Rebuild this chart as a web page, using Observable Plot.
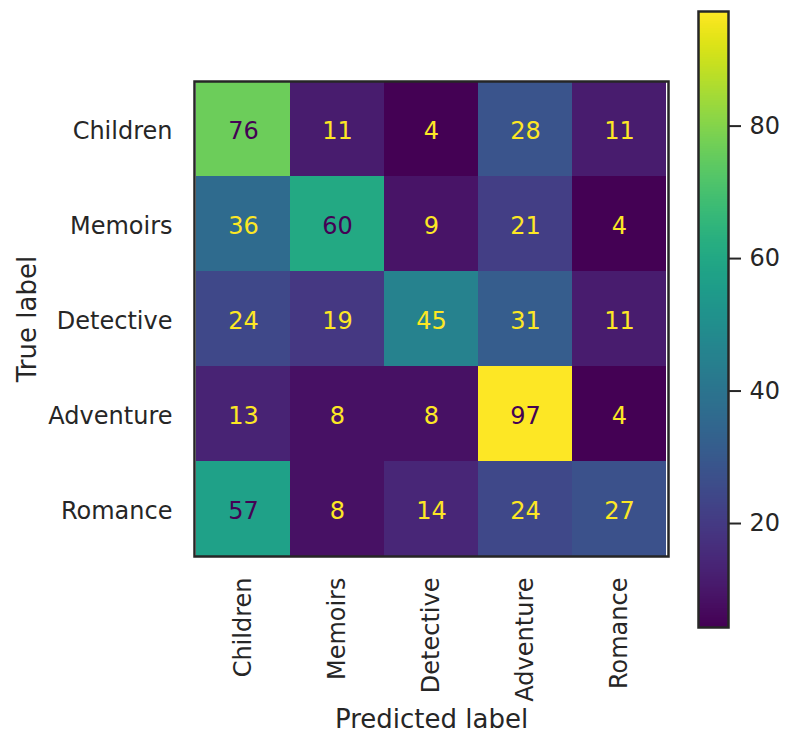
<!DOCTYPE html>
<html>
<head>
<meta charset="utf-8">
<script src="https://cdn.jsdelivr.net/npm/d3@7"></script>
<script src="https://cdn.jsdelivr.net/npm/@observablehq/plot@0.6"></script>
<style>
  html, body { margin: 0; padding: 0; background: white; }
  #wrap { position: relative; width: 792px; height: 737px; }
  #wrap svg { position: absolute; left: 0; top: 0; }
</style>
</head>
<body>
<div id="wrap"></div>
<script>
const labels = ["Children", "Memoirs", "Detective", "Adventure", "Romance"];
const counts = [
  [76, 11, 4, 28, 11],
  [36, 60, 9, 21, 4],
  [24, 19, 45, 31, 11],
  [13, 8, 8, 97, 4],
  [57, 8, 14, 24, 27]
];
const colorbarTicks = [20, 40, 60, 80];
const xTitle = "Predicted label";
const yTitle = "True label";

const cells = labels.flatMap((t, i) => labels.map((p, j) => ({trueLabel: t, predLabel: p, value: counts[i][j]})));
const vmin = d3.min(cells, d => d.value);
const vmax = d3.max(cells, d => d.value);
const thresh = (vmin + vmax) / 2;
const darkText = d3.interpolateViridis(0);
const lightText = d3.interpolateViridis(1);
const font = "'DejaVu Sans', sans-serif";
const ink = "#262626";
const fs = 24;
const tfs = 26;

const matrix = Plot.plot({
  width: 792, height: 737,
  marginLeft: 194, marginRight: 124, marginTop: 81, marginBottom: 181,
  style: {fontFamily: font, fontSize: fs + "px", color: ink, background: "transparent"},
  x: {domain: labels, padding: 0, label: null, axis: null},
  y: {domain: labels, padding: 0, label: null, axis: null},
  color: {type: "linear", scheme: "viridis", domain: [vmin, vmax]},
  marks: [
    Plot.cell(cells, {x: "predLabel", y: "trueLabel", fill: "value"}),
    Plot.text(cells.filter(d => d.value > thresh), {x: "predLabel", y: "trueLabel", text: "value", fill: darkText, fontSize: fs, dy: 2}),
    Plot.text(cells.filter(d => d.value <= thresh), {x: "predLabel", y: "trueLabel", text: "value", fill: lightText, fontSize: fs, dy: 2}),
    Plot.frame({stroke: ink, strokeWidth: 2.5}),
    Plot.axisX({tickRotate: -90, tickSize: 0, tickPadding: 21, fontSize: fs, label: null}),
    Plot.axisY({tickSize: 0, tickPadding: 22, fontSize: fs, label: null, dy: 2}),
    Plot.text([yTitle], {frameAnchor: "left", dx: -167, rotate: -90, fontSize: tfs, fill: ink, textAnchor: "middle", lineAnchor: "middle"}),
    Plot.text([xTitle], {frameAnchor: "bottom", dy: 163, fontSize: tfs, fill: ink, textAnchor: "middle", lineAnchor: "middle"})
  ]
});

const colorbar = Plot.plot({
  width: 792, height: 737,
  marginLeft: 698, marginRight: 64, marginTop: 11, marginBottom: 110,
  style: {fontFamily: font, fontSize: fs + "px", color: ink, background: "transparent"},
  x: {domain: [0, 1], axis: null},
  y: {domain: [vmin, vmax], label: null, axis: null},
  color: {type: "linear", scheme: "viridis", domain: [vmin, vmax]},
  marks: [
    Plot.raster({x1: 0, x2: 1, y1: vmin, y2: vmax, width: 1, height: 512, fill: (x, y) => y}),
    Plot.frame({stroke: ink, strokeWidth: 2.5}),
    Plot.axisY({anchor: "right", ticks: colorbarTicks, tickSize: 12, tickPadding: 9, fontSize: fs, label: null, strokeWidth: 2, dy: 2})
  ]
});

const wrap = document.getElementById("wrap");
wrap.appendChild(matrix);
wrap.appendChild(colorbar);
</script>
</body>
</html>
